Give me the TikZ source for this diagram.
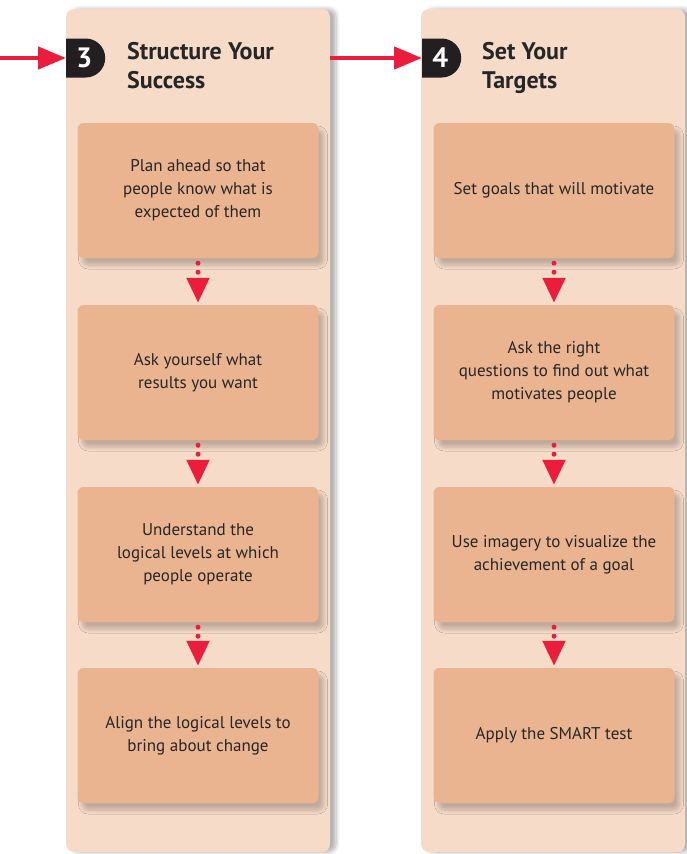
\documentclass[tikz,border=0pt]{standalone}
\usepackage{fontspec}
\setmainfont{PT Sans}
\usetikzlibrary{arrows.meta,shapes.misc,shadows.blur}
\definecolor{panelpeach}{HTML}{F5DBC8}
\definecolor{steppeach}{HTML}{EAB491}
\definecolor{flowred}{HTML}{EB1C3C}
\definecolor{badgeblack}{HTML}{231F20}

\tikzset{
  panelbox/.style={fill=panelpeach, rounded corners=8pt, minimum width=264pt, minimum height=843pt, inner sep=0pt,
    blur shadow={shadow xshift=6pt, shadow yshift=0pt, shadow blur radius=4pt, shadow blur steps=8, shadow opacity=30}},
  stepbox/.style={fill=steppeach, rounded corners=6pt, minimum width=241pt, minimum height=135pt, inner sep=0pt,
    align=center, font=\fontsize{17}{23}\selectfont, text=black!85,
    blur shadow={shadow xshift=5pt, shadow yshift=-7pt, shadow blur radius=4pt, shadow blur steps=8, shadow opacity=22}},
  badge/.style={rounded rectangle, rounded rectangle west arc=none, fill=badgeblack, text=white,
    minimum width=39pt, minimum height=39pt, inner sep=0pt, font=\bfseries\fontsize{28}{28}\selectfont},
  headline/.style={anchor=base west, align=left, inner sep=0pt, text=black!85,
    font=\bfseries\fontsize{24}{29}\selectfont},
  bigarrow/.style={flowred, line width=4.5pt, -{Triangle[length=28pt,width=22pt]}},
  dotarrow/.style={flowred, line width=5pt, line cap=round, dash pattern=on 0pt off 9pt,
    shorten <=5pt, shorten >=2pt, -{Triangle[length=25pt,width=22pt,line cap=butt]}}
}

\begin{document}
\begin{tikzpicture}[x=1pt,y=-1pt]
    \useasboundingbox (0,0) rectangle (686,854);

    % columns
    \node[panelbox] (panel3) at (198,430.5) {};
    \node[panelbox] (panel4) at (553,430.5) {};

    % headings
    \node[badge, anchor=west] (badge3) at (66,58) {3};
    \node[badge, anchor=west] (badge4) at (422,58) {4};
    \node[headline] (title3) at (127,88) {Structure Your\\Success};
    \node[headline] (title4) at (482,88) {Set Your\\Targets};

    \coordinate (start) at (0,58);
    \draw[bigarrow] (start) -- (badge3.west);
    \draw[bigarrow] (panel3.east |- badge4.west) -- (badge4.west);

    % steps of column 3
    \node[stepbox] (s3a) at (198,190.5) {Plan ahead so that\\people know what is\\expected of them};
    \node[stepbox] (s3b) at (198,372.5) {Ask yourself what\\results you want};
    \node[stepbox] (s3c) at (198,554.5) {Understand the\\logical levels at which\\people operate};
    \node[stepbox] (s3d) at (198,735.5) {Align the logical levels to\\bring about change};

    % steps of column 4
    \node[stepbox] (s4a) at (554,190.5) {Set goals that will motivate};
    \node[stepbox] (s4b) at (554,372.5) {Ask the right\\questions to find out what\\motivates people};
    \node[stepbox] (s4c) at (554,554.5) {Use imagery to visualize the\\achievement of a goal};
    \node[stepbox] (s4d) at (554,735.5) {Apply the SMART test};

    % connectors
    \draw[dotarrow] (s3a.south) -- (s3b.north);
    \draw[dotarrow] (s3b.south) -- (s3c.north);
    \draw[dotarrow] (s3c.south) -- (s3d.north);
    \draw[dotarrow] (s4a.south) -- (s4b.north);
    \draw[dotarrow] (s4b.south) -- (s4c.north);
    \draw[dotarrow] (s4c.south) -- (s4d.north);
\end{tikzpicture}
\end{document}
